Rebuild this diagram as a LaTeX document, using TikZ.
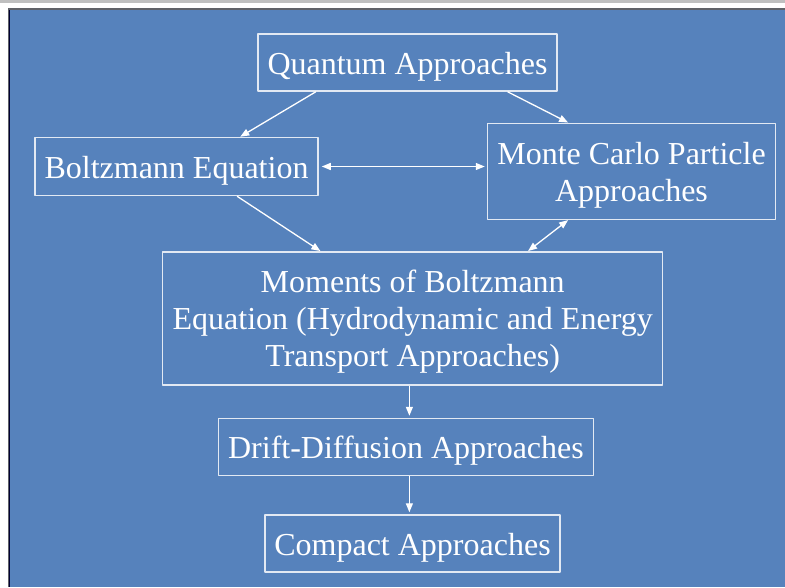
\documentclass[tikz,border=0pt]{standalone}
\usepackage{fontspec}
\setmainfont{Liberation Serif}
\usetikzlibrary{arrows.meta,calc}
\definecolor{slide}{RGB}{86,130,188}
\definecolor{rim}{RGB}{226,233,243}
\definecolor{frame}{RGB}{96,98,104}
\tikzset{
    box/.style = {draw=rim, line width=1.5pt, text=white, align=center,
        inner sep=0pt, text height=30pt, font=\fontsize{32}{37}\selectfont},
    arr/.style = {draw=white, line width=1.3pt, -{Triangle[length=9pt,width=7pt]}},
    darr/.style = {arr, {Triangle[length=9pt,width=7pt]}-{Triangle[length=9pt,width=7pt]}}
}

\begin{document}
\begin{tikzpicture}[x=1pt, y=-1pt, line join=round]
% slide background
\useasboundingbox (0,0) rectangle (785,587);
\fill[white] (0,0) rectangle (785,587);
\fill[black!25] (0,0) rectangle (785,3);
\fill[frame] (8,8) rectangle (785,587);
\fill[black!80!blue] (9,9.5) rectangle (10,587);
\fill[slide] (10,9.5) rectangle (785,587);

% boxes
\node[box, minimum width=299pt, minimum height=57pt] (qa) at (407.5,62.5) {Quantum Approaches};
\node[box, minimum width=283pt, minimum height=58pt] (be) at (176.5,166.5) {Boltzmann Equation};
\node[box, minimum width=288pt, minimum height=96pt, text height=67pt] (mc) at (631.5,171.3) {Monte Carlo Particle\\Approaches};
\node[box, minimum width=500pt, minimum height=133pt, text height=104pt] (mo) at (412.7,318.3) {Moments of Boltzmann\\Equation (Hydrodynamic and Energy\\Transport Approaches)};
\node[box, minimum width=375pt, minimum height=57pt] (dd) at (406,447) {Drift-Diffusion Approaches};
\node[box, minimum width=295pt, minimum height=57pt] (ca) at (412.5,543.5) {Compact Approaches};

% connectors
\coordinate (d1) at ($(dd.north west)!0.509!(dd.north east)$);
\draw[arr] ($(qa.south west)!0.195!(qa.south east)$) -- ($(be.north west)!0.724!(be.north east)$);
\draw[arr] ($(qa.south west)!0.833!(qa.south east)$) -- ($(mc.north west)!0.281!(mc.north east)$);
\draw[darr, shorten <=3pt, shorten >=2pt] (be.east) -- (be.east -| mc.west);
\draw[arr] ($(be.south west)!0.713!(be.south east)$) -- ($(mo.north west)!0.316!(mo.north east)$);
\draw[darr] ($(mc.south west)!0.281!(mc.south east)$) -- ($(mo.north west)!0.73!(mo.north east)$);
\draw[arr, shorten >=2pt] (d1 |- mo.south) -- (d1);
\draw[arr, shorten >=2pt] (d1 |- dd.south) -- (d1 |- ca.north);
\end{tikzpicture}
\end{document}
